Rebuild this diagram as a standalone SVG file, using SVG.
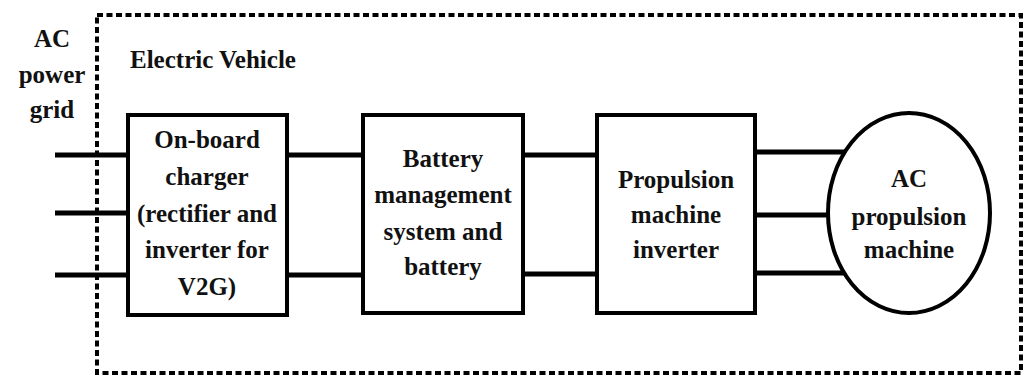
<svg xmlns="http://www.w3.org/2000/svg" width="1025" height="379" viewBox="0 0 1025 379">
<rect width="1025" height="379" fill="#fff"/>
<g id="connectors" stroke="#000" stroke-width="5" fill="none">
<line x1="55" y1="155" x2="128" y2="155"/>
<line x1="55" y1="213" x2="128" y2="213"/>
<line x1="55" y1="275" x2="128" y2="275"/>
<line x1="287" y1="155" x2="363" y2="155"/>
<line x1="287" y1="275" x2="363" y2="275"/>
<line x1="523" y1="155" x2="597" y2="155"/>
<line x1="523" y1="274" x2="597" y2="274"/>
<line x1="755" y1="152" x2="845" y2="152"/>
<line x1="755" y1="215" x2="830" y2="215"/>
<line x1="755" y1="273" x2="845" y2="273"/>
</g>
<g id="ev-boundary">
<rect x="97" y="15" width="924" height="358" fill="none" stroke="#000" stroke-width="4" stroke-dasharray="6 3.5"/>
<text x="130" y="68" font-family="Liberation Serif, serif" font-size="25" font-weight="bold" fill="#111">Electric Vehicle</text>
</g>
<g id="grid" font-family="Liberation Serif, serif" font-size="25" font-weight="bold" fill="#111" text-anchor="middle">
<text x="52" y="47">AC</text>
<text x="52" y="83">power</text>
<text x="52" y="118">grid</text>
</g>
<g id="charger" font-family="Liberation Serif, serif" font-size="25" font-weight="bold" fill="#111" text-anchor="middle">
<rect x="128" y="115" width="159" height="200" fill="#fff" stroke="#000" stroke-width="4"/>
<text x="207" y="148">On-board</text>
<text x="207" y="185">charger</text>
<text x="207" y="222">(rectifier and</text>
<text x="207" y="258">inverter for</text>
<text x="207" y="295">V2G)</text>
</g>
<g id="battery" font-family="Liberation Serif, serif" font-size="25" font-weight="bold" fill="#111" text-anchor="middle">
<rect x="363" y="115" width="160" height="198" fill="#fff" stroke="#000" stroke-width="4"/>
<text x="443" y="167">Battery</text>
<text x="443" y="203">management</text>
<text x="443" y="240">system and</text>
<text x="443" y="275">battery</text>
</g>
<g id="inverter" font-family="Liberation Serif, serif" font-size="25" font-weight="bold" fill="#111" text-anchor="middle">
<rect x="597" y="115" width="158" height="198" fill="#fff" stroke="#000" stroke-width="4"/>
<text x="676" y="188">Propulsion</text>
<text x="676" y="223">machine</text>
<text x="676" y="258">inverter</text>
</g>
<g id="machine" font-family="Liberation Serif, serif" font-size="25" font-weight="bold" fill="#111" text-anchor="middle">
<ellipse cx="909" cy="213" rx="81" ry="100" fill="#fff" stroke="#000" stroke-width="4"/>
<text x="909" y="187">AC</text>
<text x="909" y="225">propulsion</text>
<text x="909" y="258">machine</text>
</g>
</svg>
